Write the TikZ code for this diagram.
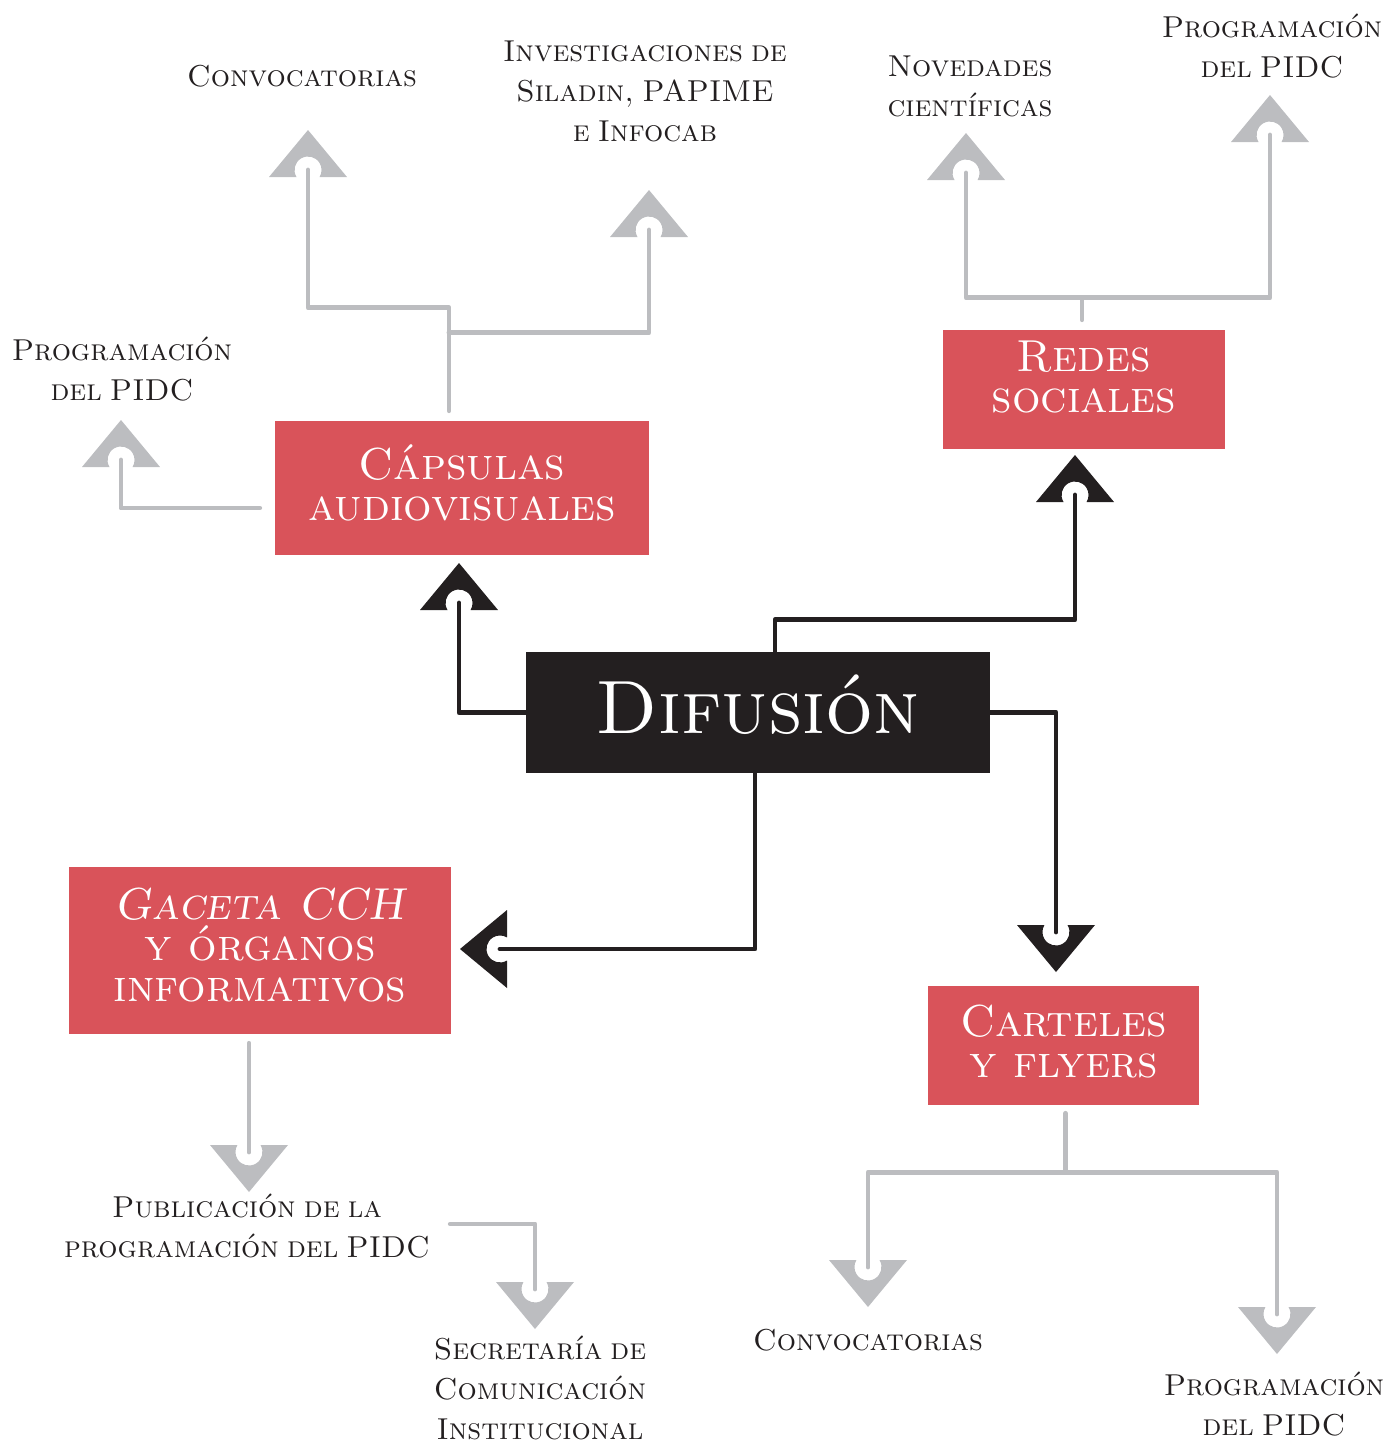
\documentclass[tikz,border=0pt]{standalone}
\usepackage{fontspec}
\usepackage{tikz}
\newfontfamily\slantcaps{lmromancaps10-oblique}[Extension=.otf]
\newcommand\lblfont{\fontsize{17.2}{22.7}\selectfont\scshape\spaceskip 0.27em plus 0.1em\relax}

\definecolor{cchred}{HTML}{D9535A}
\definecolor{cchblack}{HTML}{231F20}
\definecolor{cchgray}{HTML}{BCBDC0}

\begin{document}
\begin{tikzpicture}[
  x=0.02cm, y=-0.02cm,
  mainbox/.style={fill=cchblack, text=white, minimum width=9.28cm, minimum height=2.42cm, inner sep=0pt, text height=29.4pt, text depth=5pt, font=\fontsize{43}{43}\selectfont\scshape},
  redbox/.style={fill=cchred, text=white, align=center, inner sep=0pt, font=\fontsize{25.5}{23.4}\selectfont\scshape},
  lbl/.style={text=cchblack, align=center, inner sep=0pt, font=\lblfont},
  blackline/.style={draw=cchblack, line width=2.8pt, line cap=round, line join=round},
  grayline/.style={draw=cchgray, line width=2.8pt, line cap=round, line join=round},
  pics/notchtip/.style={code={
    \fill (-39,7) -- (-11.5,7) arc[start angle=148.7, end angle=391.3, radius=13.5] -- (39,7) -- (0,-40) -- cycle;
  }},
]
\useasboundingbox (0,0) rectangle (1388,1445);

% Central box
\node[mainbox] (difusion) at (758,712.5) {Difusión};

% Red boxes
\node[redbox, minimum width=7.48cm, minimum height=2.68cm, text depth=6pt] (capsulas) at (462,488) {Cápsulas\\audiovisuales};
\node[redbox, minimum width=5.64cm, minimum height=2.38cm, text depth=15pt] (redes) at (1084,389.5) {Redes\\sociales};
\node[redbox, minimum width=7.64cm, minimum height=3.34cm, text depth=7pt] (gaceta) at (260,950.5) {{\slantcaps Gaceta CCH}\\y órganos\\informativos};
\node[redbox, minimum width=5.42cm, minimum height=2.38cm, text depth=4.5pt] (carteles) at (1063.5,1045.5) {Carteles\\y flyers};

% Labels
\node[lbl] (convA) at (302,76) {Convocatorias};
\node[lbl] (invest) at (645,91) {Investigaciones de\\Siladin, PAPIME\\e Infocab};
\node[lbl] (noved) at (970,86) {Novedades\\científicas};
\node[lbl] (progA) at (1272,46) {Programación\\del PIDC};
\node[lbl] (progB) at (122,369) {Programación\\del PIDC};
\node[lbl] (publ) at (247,1226) {Publicación de la\\programación del PIDC};
\node[lbl] (secre) at (540,1388) {Secretaría de\\Comunicación\\Institucional};
\node[lbl] (convB) at (868,1340) {Convocatorias};
\node[lbl] (progC) at (1274,1404) {Programación\\del PIDC};

% Arrow ends
\coordinate (tipA) at (308,170);
\coordinate (tipB) at (649,230);
\coordinate (tipC) at (121,460);
\coordinate (tipD) at (966,173);
\coordinate (tipE) at (1270,135);
\coordinate (tipF) at (249,1152);
\coordinate (tipG) at (535,1289);
\coordinate (tipH) at (868,1267);
\coordinate (tipI) at (1277,1314);
\coordinate (tipCap) at (459,603);
\coordinate (tipRed) at (1075,495);
\coordinate (tipCar) at (1056,932);
\coordinate (tipGac) at (500,949);

% Arrowheads
\foreach \t in {tipA,tipB,tipC,tipD,tipE}
  \pic[cchgray] at (\t) {notchtip};
\foreach \t in {tipF,tipG,tipH,tipI}
  \pic[cchgray, rotate=180] at (\t) {notchtip};
\pic[cchblack] at (tipCap) {notchtip};
\pic[cchblack] at (tipRed) {notchtip};
\pic[cchblack, rotate=180] at (tipCar) {notchtip};
\pic[cchblack, rotate=90] at (tipGac) {notchtip};

% Black connectors
\draw[blackline] (difusion.west) -| (tipCap);
\draw[blackline] (difusion.north) ++(17,0) -- ++(0,-32) -| (tipRed);
\draw[blackline] (difusion.east) -| (tipCar);
\draw[blackline] (difusion.south) ++(-3,0) |- (tipGac);

% Gray connectors
\draw[grayline] (capsulas.north) ++(-13,-10) -- ++(0,-103) -| (tipA);
\draw[grayline] (capsulas.north) ++(-13,-88) -| (tipB);
\draw[grayline] (capsulas.west) ++(-15,20) -| (tipC);
\draw[grayline] (redes.north) ++(-2,-10) -- ++(0,-22) -| (tipD);
\draw[grayline] (redes.north) ++(-2,-32) -| (tipE);
\draw[grayline] (gaceta.south) ++(-11,9) -- (tipF);
\draw[grayline] (publ.east) ++(20,-2) -| (tipG);
\draw[grayline] (carteles.south) ++(2,8) -- ++(0,59) -| (tipH);
\draw[grayline] (carteles.south) ++(2,67) -| (tipI);
\end{tikzpicture}
\end{document}
